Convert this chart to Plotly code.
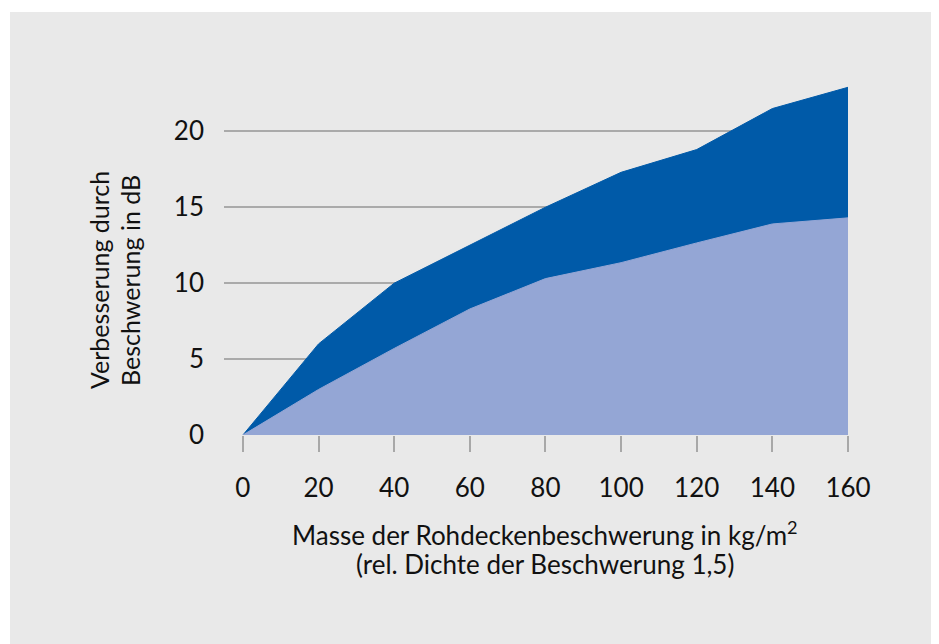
import plotly.graph_objects as go

masse = [0, 20, 40, 60, 80, 100, 120, 140, 160]
unten = [0, 3.0, 5.7, 8.3, 10.3, 11.35, 12.65, 13.9, 14.3]
oben = [0, 6.0, 10.0, 12.5, 15.0, 17.3, 18.8, 21.5, 22.9]
y_ticks = [0, 5, 10, 15, 20]
x_ticks = [0, 20, 40, 60, 80, 100, 120, 140, 160]
x_title = ["Masse der Rohdeckenbeschwerung in kg/m<sup>2</sup>",
           "(rel. Dichte der Beschwerung 1,5)"]
y_title = ["Verbesserung durch", "Beschwerung in dB"]

OFF = 8  # page body margin
W, H = 939 - OFF, 644 - OFF
L, T = 224 - OFF, 63 - OFF
R = W - (848 - OFF)
B = H - (435 - OFF)
pw, ph = W - L - R, H - T - B


def px(x):  # reference page pixel -> paper x
    return (x - OFF - L) / pw


def py(y):  # reference page pixel -> paper y
    return (H - B - (y - OFF)) / ph


BG = "#e9e9e9"
FONT = "Lato"

fig = go.Figure()
fig.add_trace(go.Scatter(x=masse, y=oben, mode="lines", fill="tozeroy",
                         fillcolor="#005aa8", line=dict(color="#005aa8", width=1),
                         hoverinfo="skip", showlegend=False))
fig.add_trace(go.Scatter(x=masse, y=unten, mode="lines", fill="tozeroy",
                         fillcolor="#94a6d5", line=dict(color="#94a6d5", width=1),
                         hoverinfo="skip", showlegend=False))

annotations = [
    dict(text=x_title[0], xref="x", yref="paper", x=80, y=py(533),
         xanchor="center", yanchor="middle", showarrow=False, font=dict(size=26)),
    dict(text=x_title[1], xref="x", yref="paper", x=80, y=py(564),
         xanchor="center", yanchor="middle", showarrow=False, font=dict(size=26)),
    dict(text=y_title[0], textangle=-90, xref="paper", yref="paper", x=px(99), y=py(280),
         xanchor="center", yanchor="middle", showarrow=False, font=dict(size=25)),
    dict(text=y_title[1], textangle=-90, xref="paper", yref="paper", x=px(130), y=py(281),
         xanchor="center", yanchor="middle", showarrow=False, font=dict(size=25)),
]

fig.update_layout(
    width=W, height=H,
    margin=dict(l=L, r=R, t=T, b=B),
    paper_bgcolor=BG, plot_bgcolor=BG,
    font=dict(family=FONT, color="#111111", size=23),
    xaxis=dict(range=[-5, 160], tickvals=x_ticks, ticks="outside", ticklen=16,
               tickcolor="#a8a8a8", tickwidth=1.5, showgrid=False, zeroline=False,
               showline=False, tickfont=dict(size=26), ticklabelstandoff=14),
    yaxis=dict(range=[0, 24.5], tickvals=y_ticks, showgrid=True, gridcolor="#aaaaaa",
               gridwidth=1.5, zeroline=False, showline=False, ticks="",
               tickfont=dict(size=26), ticklabelstandoff=19),
    shapes=[
        dict(type="rect", xref="paper", yref="paper", x0=px(0), x1=px(10),
             y0=py(0), y1=py(700), fillcolor="white", line=dict(width=0), layer="below"),
        dict(type="rect", xref="paper", yref="paper", x0=px(0), x1=px(1000),
             y0=py(0), y1=py(12), fillcolor="white", line=dict(width=0), layer="below"),
    ],
    annotations=annotations,
)

fig.write_html("out.html")
